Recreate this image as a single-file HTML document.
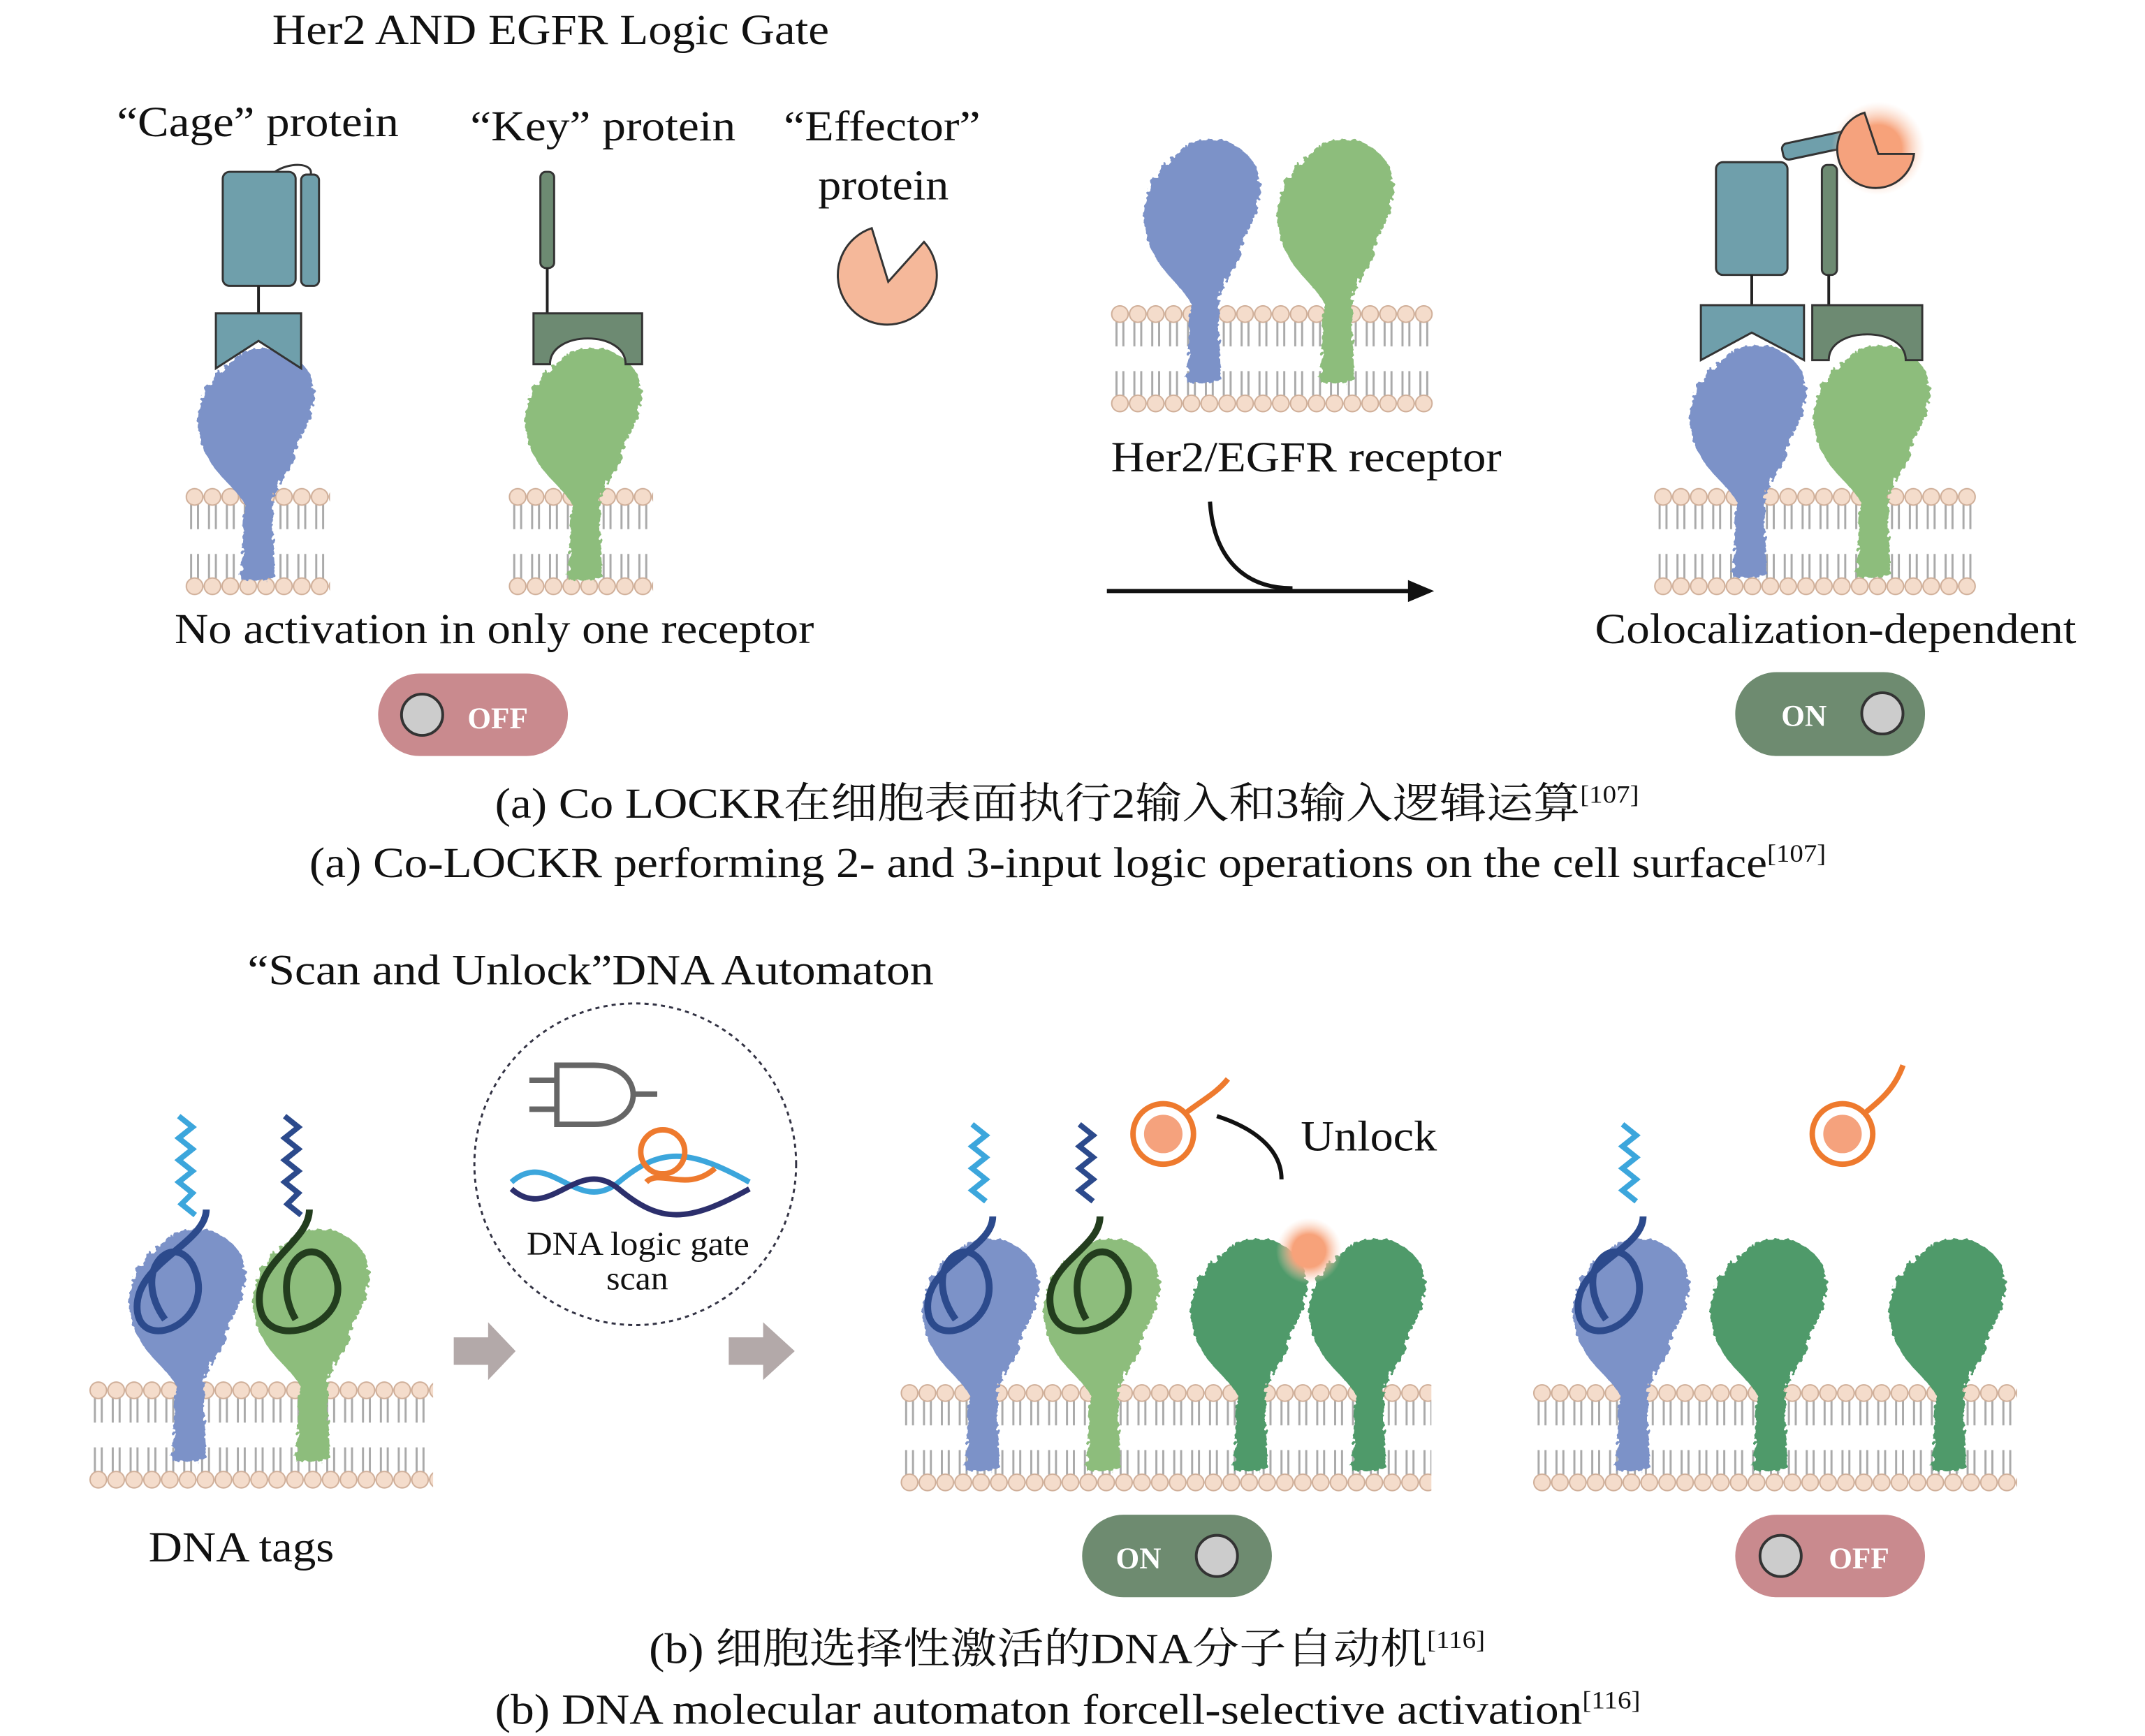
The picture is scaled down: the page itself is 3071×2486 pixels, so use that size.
<!DOCTYPE html>
<html><head><meta charset="utf-8"><style>
html,body{margin:0;padding:0;background:#fff}
svg{display:block}
text{font-family:"Liberation Serif","Noto Serif CJK SC",serif;fill:#111}
</style></head><body>
<svg width="3071" height="2486" viewBox="0 0 1560 1263" preserveAspectRatio="none" xmlns="http://www.w3.org/2000/svg">
<defs>
<pattern id="mem" x="0" y="0" width="13" height="78" patternUnits="userSpaceOnUse">
<line x1="4" y1="12" x2="4" y2="30" stroke="#aaa" stroke-width="1.5"/><line x1="9" y1="12" x2="9" y2="30" stroke="#aaa" stroke-width="1.5"/>
<line x1="4" y1="48" x2="4" y2="66" stroke="#aaa" stroke-width="1.5"/><line x1="9" y1="48" x2="9" y2="66" stroke="#aaa" stroke-width="1.5"/>
<circle cx="6.5" cy="6.5" r="6" fill="#f4dccb" stroke="#cfae98" stroke-width="1"/>
<circle cx="6.5" cy="71.5" r="6" fill="#f4dccb" stroke="#cfae98" stroke-width="1"/>
</pattern>
<filter id="rough"><feTurbulence type="fractalNoise" baseFrequency="0.25" numOctaves="2" result="n"/><feDisplacementMap in="SourceGraphic" in2="n" scale="6"/></filter>
<radialGradient id="glow"><stop offset="0.5" stop-color="#f7a27a"/><stop offset="1" stop-color="#fbd6c2" stop-opacity="0"/></radialGradient>
<path id="prot" d="M30,10 C45,-5 75,0 85,20 C95,45 80,60 75,75 C70,95 60,100 58,115 L60,170 L35,170 L38,115 C30,100 10,90 5,65 C0,40 15,20 30,10 Z"/>
</defs>

<text x="198" y="32" font-size="31" textLength="405" lengthAdjust="spacingAndGlyphs">Her2 AND EGFR Logic Gate</text>
<text x="85" y="99" font-size="31" textLength="205" lengthAdjust="spacingAndGlyphs">“Cage” protein</text>
<text x="342" y="102" font-size="31" textLength="193" lengthAdjust="spacingAndGlyphs">“Key” protein</text>
<text x="570" y="102" font-size="31" textLength="143" lengthAdjust="spacingAndGlyphs">“Effector”</text>
<text x="595" y="145" font-size="31" textLength="95" lengthAdjust="spacingAndGlyphs">protein</text>

<g transform="translate(135,355)"><rect width="105" height="78" fill="url(#mem)"/></g>
<use href="#prot" transform="translate(140,252)" fill="#7c92c8" filter="url(#rough)"/>
<rect x="162" y="125" width="53" height="83" rx="5" fill="#6f9fab" stroke="#333" stroke-width="1.5"/>
<rect x="219" y="127" width="13" height="81" rx="4" fill="#6f9fab" stroke="#333" stroke-width="1.5"/>
<path d="M200,125 C210,118 228,118 226,127" fill="none" stroke="#333" stroke-width="1.5"/>
<line x1="188" y1="208" x2="188" y2="228" stroke="#222" stroke-width="2"/>
<path d="M157,228 L219,228 L219,268 L188,248 L157,268 Z" fill="#6f9fab" stroke="#333" stroke-width="1.5"/>

<g transform="translate(370,355)"><rect width="105" height="78" fill="url(#mem)"/></g>
<use href="#prot" transform="translate(378,252)" fill="#8dbd7c" filter="url(#rough)"/>
<rect x="393" y="125" width="10" height="70" rx="4" fill="#6d8a72" stroke="#333" stroke-width="1.5"/>
<line x1="398" y1="195" x2="398" y2="228" stroke="#222" stroke-width="2"/>
<path d="M388,228 L467,228 L467,265 L455,265 C455,240 400,240 400,265 L388,265 Z" fill="#6d8a72" stroke="#333" stroke-width="1.5"/>

<path d="M646,200 m-12,-34 A36,36 0 1,0 672,176 L646,205 Z" fill="#f5b89a" stroke="#333" stroke-width="1.5"/>

<g transform="translate(808,222)"><rect width="234" height="78" fill="url(#mem)"/></g>
<use href="#prot" transform="translate(828,100) scale(1,1.05)" fill="#7c92c8" filter="url(#rough)"/>
<use href="#prot" transform="translate(925,100) scale(1,1.05)" fill="#8dbd7c" filter="url(#rough)"/>
<text x="808" y="343" font-size="31" textLength="284" lengthAdjust="spacingAndGlyphs">Her2/EGFR receptor</text>
<path d="M880,365 C882,400 900,428 940,428" fill="none" stroke="#111" stroke-width="3"/>
<line x1="805" y1="430" x2="1028" y2="430" stroke="#111" stroke-width="3"/>
<path d="M1043,430 L1024,422 L1024,438 Z" fill="#111"/>

<g transform="translate(1203,355)"><rect width="234" height="78" fill="url(#mem)"/></g>
<use href="#prot" transform="translate(1225,250)" fill="#7c92c8" filter="url(#rough)"/>
<use href="#prot" transform="translate(1315,250)" fill="#8dbd7c" filter="url(#rough)"/>
<rect x="1248" y="118" width="52" height="82" rx="5" fill="#6f9fab" stroke="#333" stroke-width="1.5"/>
<line x1="1274" y1="200" x2="1274" y2="222" stroke="#222" stroke-width="2"/>
<path d="M1237,222 L1312,222 L1312,262 L1274,242 L1237,262 Z" fill="#6f9fab" stroke="#333" stroke-width="1.5"/>
<rect x="1325" y="120" width="11" height="80" rx="4" fill="#6d8a72" stroke="#333" stroke-width="1.5"/>
<line x1="1330" y1="200" x2="1330" y2="222" stroke="#222" stroke-width="2"/>
<path d="M1318,222 L1398,222 L1398,262 L1386,262 C1386,237 1330,237 1330,262 L1318,262 Z" fill="#6d8a72" stroke="#333" stroke-width="1.5"/>
<rect x="1296" y="100" width="52" height="12" rx="4" transform="rotate(-12 1320 106)" fill="#6f9fab" stroke="#333" stroke-width="1.5"/>
<circle cx="1366" cy="108" r="34" fill="url(#glow)"/>
<path d="M1366,108 m-10,-26 A28,28 0 1,0 1392,112 L1366,112 Z" fill="#f5a27d" stroke="#333" stroke-width="1.5"/>

<text x="127" y="468" font-size="31" textLength="465" lengthAdjust="spacingAndGlyphs">No activation in only one receptor</text>
<text x="1160" y="468" font-size="31" textLength="350" lengthAdjust="spacingAndGlyphs">Colocalization-dependent</text>

<rect x="275" y="490" width="138" height="60" rx="30" fill="#c98a8e"/>
<circle cx="307" cy="520" r="15" fill="#ccc" stroke="#333" stroke-width="2"/>
<text x="362" y="530" font-size="22" font-weight="bold" text-anchor="middle" style="fill:#fff">OFF</text>
<rect x="1262" y="489" width="138" height="61" rx="30" fill="#6e8b70"/>
<circle cx="1369" cy="519" r="15" fill="#ccc" stroke="#333" stroke-width="2"/>
<text x="1312" y="528" font-size="22" font-weight="bold" text-anchor="middle" style="fill:#fff">ON</text>

<text x="360" y="595" font-size="31" textLength="832" lengthAdjust="spacingAndGlyphs">(a) Co LOCKR在细胞表面执行2输入和3输入逻辑运算<tspan font-size="18" dy="-11">[107]</tspan></text>
<text x="225" y="638" font-size="31" textLength="1103" lengthAdjust="spacingAndGlyphs">(a) Co-LOCKR performing 2- and 3-input logic operations on the cell surface<tspan font-size="18" dy="-11">[107]</tspan></text>

<text x="180" y="716" font-size="31" textLength="499" lengthAdjust="spacingAndGlyphs">“Scan and Unlock”DNA Automaton</text>

<g transform="translate(65,1005)"><rect width="250" height="78" fill="url(#mem)"/></g>
<use href="#prot" transform="translate(90,893)" fill="#7c92c8" filter="url(#rough)"/>
<use href="#prot" transform="translate(180,893)" fill="#8dbd7c" filter="url(#rough)"/>
<path d="M130,812 l10,8 -10,8 10,8 -10,8 10,8 -10,8 10,8 -8,8 10,8" fill="none" stroke="#3ca6dc" stroke-width="4"/>
<path d="M150,880 C150,905 95,920 100,955 C105,985 160,960 140,920 C125,895 95,925 120,960" fill="none" stroke="#2c4a8c" stroke-width="5"/>
<path d="M207,812 l10,8 -10,8 10,8 -10,8 10,8 -10,8 10,8 -8,8 10,8" fill="none" stroke="#2c4a8c" stroke-width="4"/>
<path d="M225,880 C225,905 180,920 190,955 C200,985 265,960 240,920 C225,895 195,925 215,960" fill="none" stroke="#233d1e" stroke-width="5"/>
<text x="108" y="1136" font-size="31" textLength="135" lengthAdjust="spacingAndGlyphs">DNA tags</text>

<path d="M330,973 L355,973 L355,962 L375,983 L355,1004 L355,993 L330,993 Z" fill="#b3a9a9"/>
<path d="M530,973 L555,973 L555,962 L578,983 L555,1004 L555,993 L530,993 Z" fill="#b3a9a9"/>

<circle cx="462" cy="847" r="117" fill="none" stroke="#334" stroke-width="1.5" stroke-dasharray="3,3"/>
<path d="M405,775 L432,775 C470,775 470,818 432,818 L405,818 Z" fill="none" stroke="#666" stroke-width="4"/>
<line x1="385" y1="786" x2="405" y2="786" stroke="#666" stroke-width="4"/>
<line x1="385" y1="807" x2="405" y2="807" stroke="#666" stroke-width="4"/>
<line x1="461" y1="796" x2="478" y2="796" stroke="#666" stroke-width="4"/>
<path d="M372,860 C400,835 420,885 450,860 S500,835 545,860" fill="none" stroke="#3ca6dc" stroke-width="4"/>
<path d="M372,865 C400,890 420,840 450,865 S500,890 545,865" fill="none" stroke="#2c2f6c" stroke-width="4"/>
<circle cx="482" cy="838" r="16" fill="none" stroke="#ee7a2e" stroke-width="4"/>
<path d="M470,860 C480,850 500,868 520,850" fill="none" stroke="#ee7a2e" stroke-width="4"/>
<text x="383" y="913" font-size="24" textLength="162" lengthAdjust="spacingAndGlyphs">DNA logic gate</text>
<text x="441" y="938" font-size="24" textLength="45" lengthAdjust="spacingAndGlyphs">scan</text>

<g transform="translate(655,1007)"><rect width="386" height="78" fill="url(#mem)"/></g>
<use href="#prot" transform="translate(667,900)" fill="#7c92c8" filter="url(#rough)"/>
<use href="#prot" transform="translate(755,900)" fill="#8dbd7c" filter="url(#rough)"/>
<use href="#prot" transform="translate(862,900)" fill="#4f9a6a" filter="url(#rough)"/>
<use href="#prot" transform="translate(948,900)" fill="#4f9a6a" filter="url(#rough)"/>
<circle cx="952" cy="910" r="24" fill="url(#glow)"/>
<path d="M707,818 l10,8 -10,8 10,8 -10,8 10,8 -10,8 10,8" fill="none" stroke="#3ca6dc" stroke-width="4"/>
<path d="M722,885 C722,910 670,920 675,955 C680,985 735,960 715,920 C700,895 670,925 695,960" fill="none" stroke="#2c4a8c" stroke-width="5"/>
<path d="M785,818 l10,8 -10,8 10,8 -10,8 10,8 -10,8 10,8" fill="none" stroke="#2c4a8c" stroke-width="4"/>
<path d="M800,885 C800,910 755,920 765,955 C775,985 840,960 815,920 C800,895 770,925 790,960" fill="none" stroke="#233d1e" stroke-width="5"/>
<circle cx="846" cy="825" r="22" fill="none" stroke="#ee7a2e" stroke-width="4"/>
<circle cx="846" cy="825" r="14" fill="#f5a27d"/>
<path d="M862,810 C875,800 885,795 893,785" fill="none" stroke="#ee7a2e" stroke-width="4"/>
<path d="M885,812 C910,820 932,835 932,858" fill="none" stroke="#111" stroke-width="3"/>
<text x="946" y="837" font-size="31" textLength="99" lengthAdjust="spacingAndGlyphs">Unlock</text>

<g transform="translate(1115,1007)"><rect width="352" height="78" fill="url(#mem)"/></g>
<use href="#prot" transform="translate(1140,900)" fill="#7c92c8" filter="url(#rough)"/>
<use href="#prot" transform="translate(1240,900)" fill="#4f9a6a" filter="url(#rough)"/>
<use href="#prot" transform="translate(1370,900)" fill="#4f9a6a" filter="url(#rough)"/>
<path d="M1180,818 l10,8 -10,8 10,8 -10,8 10,8 -10,8 10,8" fill="none" stroke="#3ca6dc" stroke-width="4"/>
<path d="M1195,885 C1195,910 1143,920 1148,955 C1153,985 1208,960 1188,920 C1173,895 1143,925 1168,960" fill="none" stroke="#2c4a8c" stroke-width="5"/>
<circle cx="1340" cy="825" r="22" fill="none" stroke="#ee7a2e" stroke-width="4"/>
<circle cx="1340" cy="825" r="14" fill="#f5a27d"/>
<path d="M1356,810 C1368,800 1378,792 1384,775" fill="none" stroke="#ee7a2e" stroke-width="4"/>

<rect x="787" y="1102" width="138" height="60" rx="30" fill="#6e8b70"/>
<circle cx="885" cy="1132" r="15" fill="#ccc" stroke="#333" stroke-width="2"/>
<text x="828" y="1141" font-size="22" font-weight="bold" text-anchor="middle" style="fill:#fff">ON</text>
<rect x="1262" y="1102" width="138" height="60" rx="30" fill="#c98a8e"/>
<circle cx="1295" cy="1132" r="15" fill="#ccc" stroke="#333" stroke-width="2"/>
<text x="1352" y="1141" font-size="22" font-weight="bold" text-anchor="middle" style="fill:#fff">OFF</text>

<text x="472" y="1210" font-size="31" textLength="608" lengthAdjust="spacingAndGlyphs">(b) 细胞选择性激活的DNA分子自动机<tspan font-size="18" dy="-11">[116]</tspan></text>
<text x="360" y="1254" font-size="31" textLength="833" lengthAdjust="spacingAndGlyphs">(b) DNA molecular automaton forcell-selective activation<tspan font-size="18" dy="-11">[116]</tspan></text>
</svg>
</body></html>
